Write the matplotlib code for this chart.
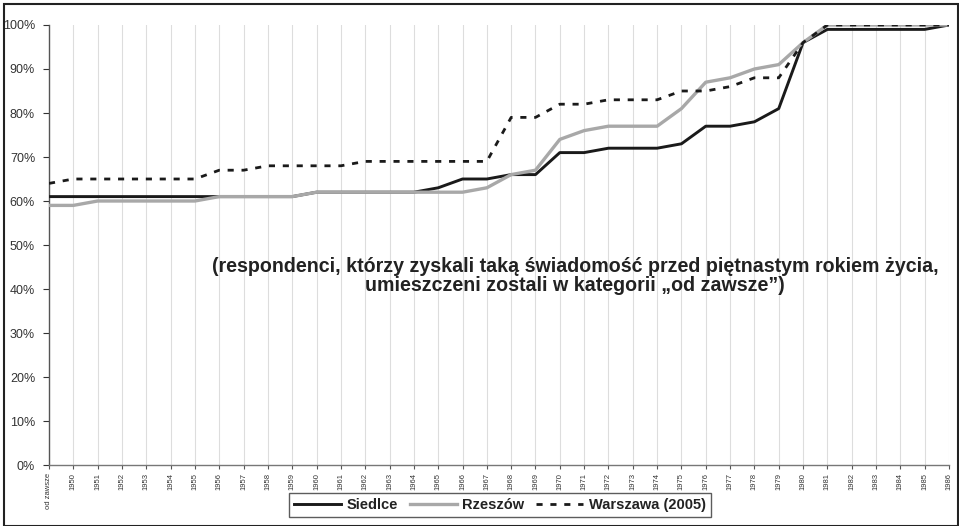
import matplotlib
matplotlib.use("Agg")
import matplotlib.pyplot as plt
from matplotlib.ticker import FuncFormatter
from matplotlib.patches import Rectangle

plt.rcParams['font.family'] = ['Liberation Sans', 'DejaVu Sans']

categories = ["od zawsze"] + [str(y) for y in range(1950, 1987)]

siedlce = [61, 61, 61, 61, 61, 61, 61, 61, 61, 61, 61,
           62, 62, 62, 62, 62, 63, 65, 65, 66, 66,
           71, 71, 72, 72, 72, 73, 77, 77, 78, 81,
           96, 99, 99, 99, 99, 99, 100]
rzeszow = [59, 59, 60, 60, 60, 60, 60, 61, 61, 61, 61,
           62, 62, 62, 62, 62, 62, 62, 63, 66, 67,
           74, 76, 77, 77, 77, 81, 87, 88, 90, 91,
           96, 100, 100, 100, 100, 100, 100]
warszawa = [64, 65, 65, 65, 65, 65, 65, 67, 67, 68, 68,
            68, 68, 69, 69, 69, 69, 69, 69, 79, 79,
            82, 82, 83, 83, 83, 85, 85, 86, 88, 88,
            96, 100, 100, 100, 100, 100, 100]
series_names = ["Siedlce", "Rzeszów", "Warszawa (2005)"]
yticks = [0, 10, 20, 30, 40, 50, 60, 70, 80, 90, 100]

fig = plt.figure(figsize=(9.59, 5.26), dpi=100)
ax = fig.add_axes([49/959, 61/526, 900/959, 440/526])

x = list(range(len(categories)))
ax.plot(x, siedlce, color="#1a1a1a", lw=2.1, label=series_names[0], zorder=3)
ax.plot(x, rzeszow, color="#a8a8a8", lw=2.4, label=series_names[1], zorder=4)
ax.plot(x, warszawa, color="#1a1a1a", lw=2.0, ls=(0, (2.2, 2.8)), label=series_names[2], zorder=5)

ax.set_xlim(0, len(categories) - 1)
ax.set_ylim(0, 100)
ax.set_yticks(yticks)
ax.yaxis.set_major_formatter(FuncFormatter(lambda v, p: f"{int(v)}%"))
ax.set_xticks(x)
ax.set_xticklabels(categories, rotation=90, fontsize=5.5, color="#333333")
ax.tick_params(axis='y', labelsize=9, colors="#333333", length=4, width=0.8, pad=6)
ax.tick_params(axis='x', length=3, width=0.8, color="#555555", pad=3)
ax.xaxis.grid(True, color="#dddddd", lw=0.8)
ax.yaxis.grid(False)
ax.set_axisbelow(True)
for s in ["top", "right"]:
    ax.spines[s].set_visible(False)
ax.spines["left"].set_color("#555555")
ax.spines["bottom"].set_color("#777777")
ax.spines["left"].set_linewidth(1.0)
ax.spines["bottom"].set_linewidth(1.0)

ax.text(575/959, 1 - 276/526,
        "(respondenci, którzy zyskali taką świadomość przed piętnastym rokiem życia,\n"
        "umieszczeni zostali w kategorii „od zawsze”)",
        transform=fig.transFigure, ha="center", va="center", fontsize=14.1,
        fontweight="bold", color="#222222", linespacing=1.0)

leg = fig.legend(loc="center", bbox_to_anchor=(500/959, 1 - 505/526), ncol=3,
                 prop={"weight": "bold", "size": 10.5}, frameon=True, fancybox=False,
                 edgecolor="#333333", handlelength=3.2, handletextpad=0.4,
                 columnspacing=0.8, borderpad=0.35)
leg.get_frame().set_linewidth(1.0)
for t in leg.get_texts():
    t.set_color("#222222")

fig.patches.append(Rectangle((4/959, 0), 1 - 5/959, 1 - 4/526, transform=fig.transFigure,
                             fill=False, edgecolor="#222222", lw=1.5))

fig.savefig("out.png", dpi=100)
